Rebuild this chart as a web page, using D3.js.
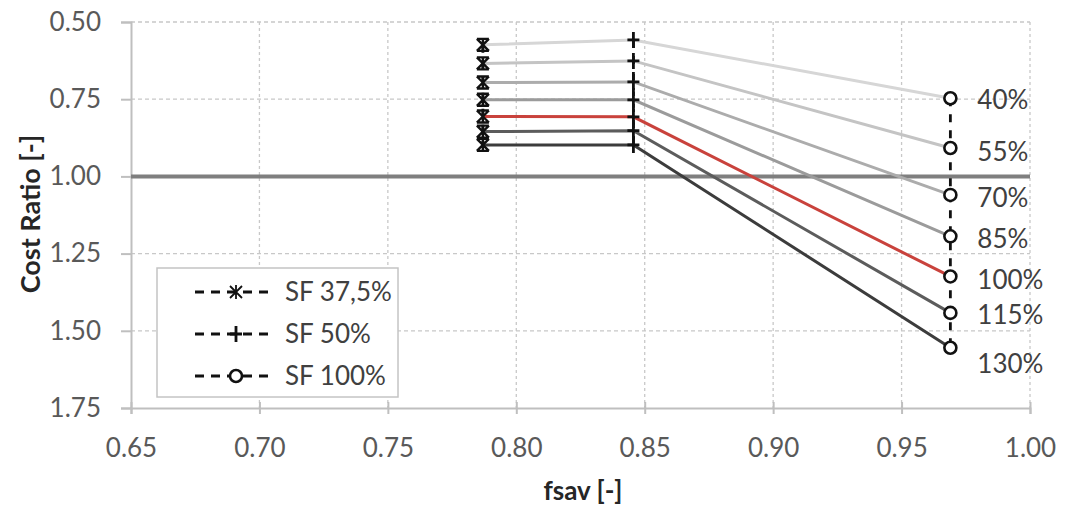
<!DOCTYPE html>
<head>
  <meta charset="utf-8">
  <script src="https://d3js.org/d3.v7.min.js"></script>
  <style>
    body { margin: 0; background: #fff; }
    svg { width: 1071px; height: 509px; font-family: Lato, 'Open Sans', sans-serif; }
  </style>
</head>
<body>
  <svg></svg>
  <script>
    const width = 1071;
    const height = 509;

    // chart data
    const sfNames = ['SF 37,5%', 'SF 50%', 'SF 100%'];
    const sfMarkers = ['star', 'plus', 'circle'];
    const fsav = [0.787, 0.8456, 0.969];
    const levels = ['40%', '55%', '70%', '85%', '100%', '115%', '130%'];
    const ratioSF375 = [0.574, 0.634, 0.696, 0.752, 0.806, 0.855, 0.898];
    const ratioSF50 = [0.558, 0.626, 0.694, 0.752, 0.807, 0.852, 0.898];
    const ratioSF100 = [0.747, 0.908, 1.060, 1.194, 1.324, 1.442, 1.555];
    const xTicks = [0.65, 0.70, 0.75, 0.80, 0.85, 0.90, 0.95, 1.00];
    const yTicks = [0.50, 0.75, 1.00, 1.25, 1.50, 1.75];
    const refRatio = 1.0;

    // styles
    const levelColors = ['#d6d6d6', '#c4c4c4', '#acacac', '#9b9b9b', '#c9423c', '#5c5c5c', '#3c3c3c'];
    const labelDy = [2, 4, 3, 3, 3, 2, 16];

    const x = d3.scaleLinear().domain([0.65, 1.0]).range([131, 1030]);
    const y = d3.scaleLinear().domain([0.5, 1.75]).range([22, 408]);

    const svg = d3.select('svg');
    const bySeries = [ratioSF375, ratioSF50, ratioSF100];

    // grid
    const grid = svg.append('g');
    grid.selectAll('.hg').data(yTicks.slice(0, -1)).enter().append('line')
      .attr('x1', x(0.65)).attr('x2', x(1.0))
      .attr('y1', d => y(d)).attr('y2', d => y(d))
      .attr('stroke', '#c8c8c8').attr('stroke-width', 1.3)
      .attr('stroke-dasharray', '4,3');
    grid.selectAll('.vg').data(xTicks.slice(1)).enter().append('line')
      .attr('x1', d => x(d)).attr('x2', d => x(d))
      .attr('y1', y(0.5)).attr('y2', y(1.75))
      .attr('stroke', '#c8c8c8').attr('stroke-width', 1.3)
      .attr('stroke-dasharray', '3,3');

    // axes
    const xAxis = svg.append('g')
      .attr('transform', `translate(0,${y(1.75)})`)
      .call(d3.axisBottom(x).tickValues(xTicks).tickFormat(d3.format('.2f')).tickSize(6).tickPadding(25));
    xAxis.selectAll('.tick line').attr('y1', -6);
    const yAxis = svg.append('g')
      .attr('transform', `translate(${x(0.65)},0)`)
      .call(d3.axisLeft(y).tickValues(yTicks).tickFormat(d3.format('.2f')).tickSize(10).tickPadding(20));
    [xAxis, yAxis].forEach(a => {
      a.select('.domain').attr('stroke', '#bfbfbf').attr('stroke-width', 2);
      a.selectAll('.tick line').attr('stroke', '#bfbfbf').attr('stroke-width', 2);
      a.selectAll('.tick text').attr('fill', '#595959').attr('font-size', 26)
        .attr('font-family', 'Lato, sans-serif');
    });

    // reference line at 1.00
    svg.append('line')
      .attr('x1', x(0.65)).attr('x2', x(1.0))
      .attr('y1', y(refRatio)).attr('y2', y(refRatio))
      .attr('stroke', '#7f7f7f').attr('stroke-width', 4);

    // level lines
    const line = d3.line().x(d => x(d[0])).y(d => y(d[1]));
    svg.selectAll('.lvl').data(levels).enter().append('path')
      .attr('fill', 'none')
      .attr('stroke', (d, i) => levelColors[i])
      .attr('stroke-width', 3)
      .attr('d', (d, i) => line(fsav.map((f, s) => [f, bySeries[s][i]])));

    // SF series lines (dashed, vertical)
    svg.selectAll('.sf').data(sfNames).enter().append('path')
      .attr('fill', 'none').attr('stroke', '#111').attr('stroke-width', 2.8)
      .attr('stroke-dasharray', '8,8')
      .attr('d', (d, s) => line(bySeries[s].map(v => [fsav[s], v])));

    function marker(g, type) {
      if (type === 'circle') {
        g.append('circle').attr('r', 6).attr('fill', '#fff')
          .attr('stroke', '#111').attr('stroke-width', 2.6);
      } else if (type === 'plus') {
        g.append('path').attr('d', 'M-6,0H6M0,-8V8')
          .attr('stroke', '#111').attr('stroke-width', 2.8);
      } else {
        g.append('path').attr('d', 'M-6,-6L6,6M-6,6L6,-6M0,-7V7M-6,-6H6M-6,6H6')
          .attr('stroke', '#111').attr('stroke-width', 2.4);
      }
    }

    bySeries.forEach((vals, s) => {
      vals.forEach(v => {
        const g = svg.append('g').attr('transform', `translate(${x(fsav[s])},${y(v)})`);
        marker(g, sfMarkers[s]);
      });
    });

    // level labels
    svg.selectAll('.lbl').data(levels).enter().append('text')
      .attr('x', x(fsav[2]) + 27)
      .attr('y', (d, i) => y(ratioSF100[i]) + labelDy[i])
      .attr('dy', '0.35em')
      .attr('font-size', 26).attr('fill', '#404040')
      .text(d => d);

    // legend
    const legend = svg.append('g').attr('transform', 'translate(157,268)');
    legend.append('rect').attr('width', 241).attr('height', 129)
      .attr('fill', '#fff').attr('stroke', '#c4c4c4').attr('stroke-width', 1.5);
    sfNames.forEach((name, s) => {
      const ly = 24 + s * 42;
      legend.append('line').attr('x1', 38).attr('x2', 116).attr('y1', ly).attr('y2', ly)
        .attr('stroke', '#111').attr('stroke-width', 2.8).attr('stroke-dasharray', '9,7');
      const mg = legend.append('g').attr('transform', `translate(79,${ly})`);
      if (s === 0) {
        mg.append('path').attr('d', 'M-6,-6L6,6M-6,6L6,-6M0,-7V7')
          .attr('stroke', '#111').attr('stroke-width', 1.8);
      } else {
        marker(mg, sfMarkers[s]);
      }
      legend.append('text').attr('x', 128).attr('y', ly).attr('dy', '0.35em')
        .attr('font-size', 26).attr('fill', '#404040').text(name);
    });

    // axis titles
    svg.append('text')
      .attr('transform', `translate(40,214) rotate(-90)`)
      .attr('text-anchor', 'middle').attr('font-weight', 'bold')
      .attr('font-size', 27).attr('fill', '#262626').text('Cost Ratio [-]');
    svg.append('text')
      .attr('x', 583).attr('y', 500)
      .attr('text-anchor', 'middle').attr('font-weight', 'bold')
      .attr('font-size', 26).attr('fill', '#262626').text('fsav [-]');
  </script>
</body>
